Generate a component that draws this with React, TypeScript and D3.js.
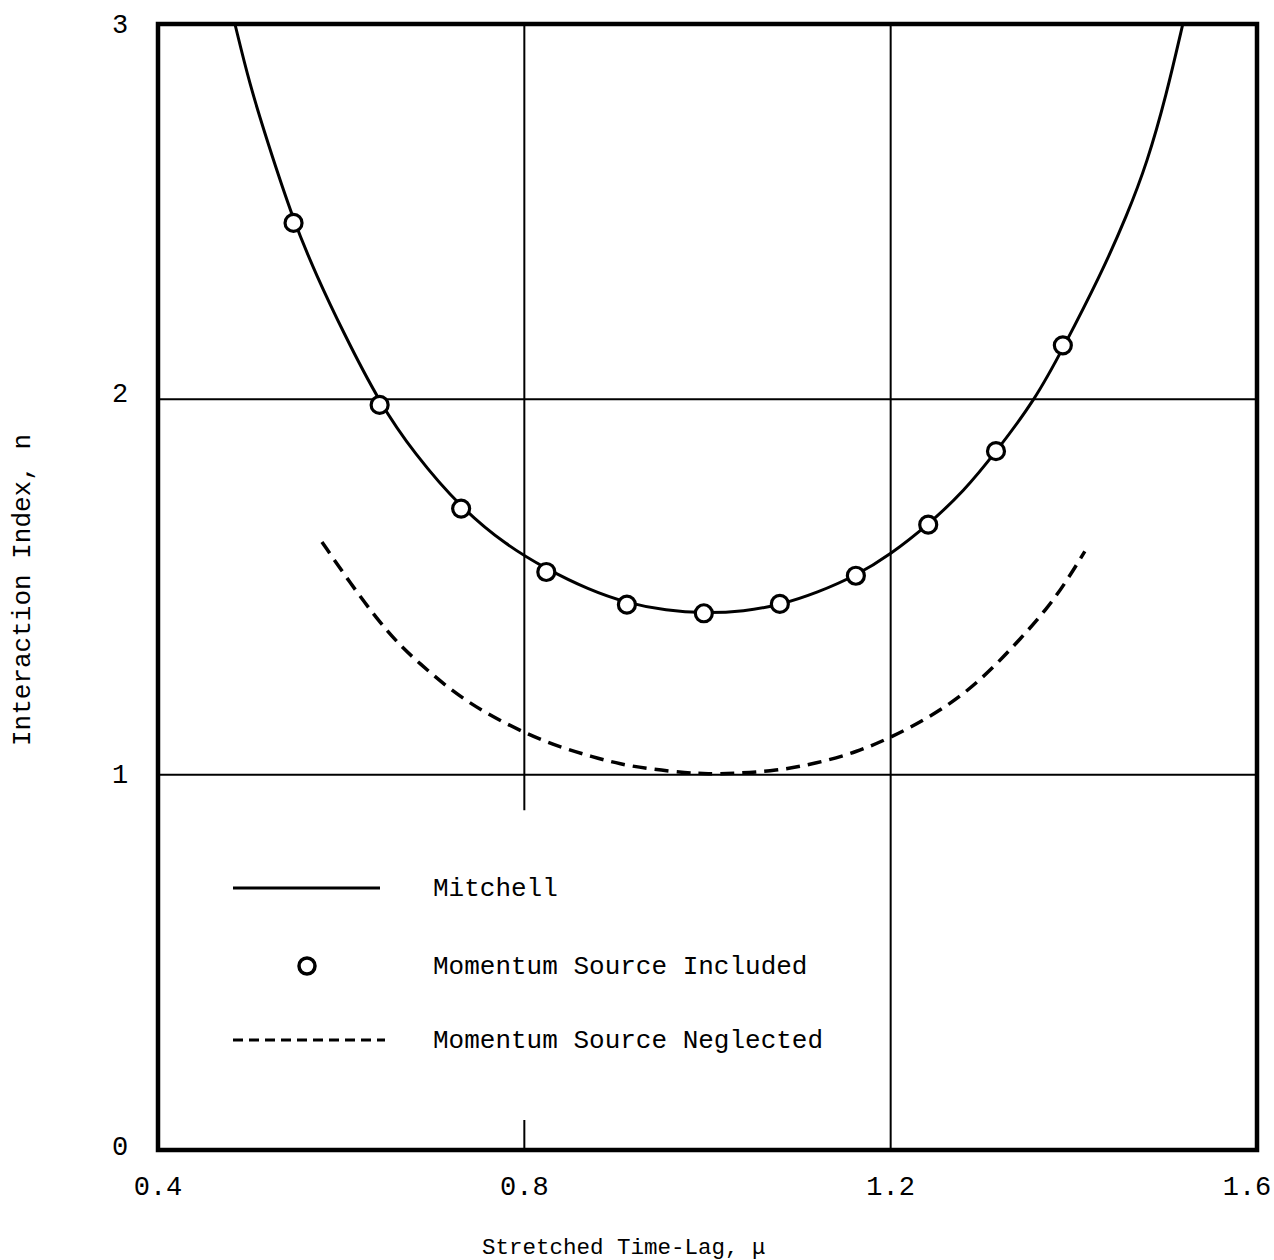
import * as d3 from "d3";

// Mitchell solution (solid curve), mu vs n
const mitchell: [number, number][] = [
  [0.484, 3.0], [0.5, 2.84], [0.519, 2.69], [0.548, 2.475], [0.573, 2.33],
  [0.602, 2.18], [0.642, 1.99], [0.68, 1.855], [0.731, 1.71], [0.78, 1.612],
  [0.824, 1.548], [0.87, 1.493], [0.912, 1.457], [0.955, 1.437], [0.996, 1.43],
  [1.04, 1.435], [1.079, 1.452], [1.12, 1.485], [1.162, 1.53], [1.2, 1.587],
  [1.241, 1.666], [1.28, 1.755], [1.315, 1.86], [1.358, 2.0], [1.388, 2.135],
  [1.429, 2.33], [1.458, 2.49], [1.48, 2.63], [1.501, 2.81], [1.519, 3.0],
];

// momentum source included (circles)
const included: [number, number][] = [
  [0.548, 2.47], [0.642, 1.985], [0.731, 1.709], [0.824, 1.54], [0.912, 1.453],
  [0.996, 1.43], [1.079, 1.455], [1.162, 1.53], [1.241, 1.666], [1.315, 1.862],
  [1.388, 2.144],
];

// momentum source neglected (dashed curve)
const neglected: [number, number][] = [
  [0.579, 1.62], [0.61, 1.51], [0.639, 1.415], [0.664, 1.345], [0.684, 1.3],
  [0.721, 1.222], [0.759, 1.162], [0.803, 1.108], [0.839, 1.073], [0.874, 1.048],
  [0.904, 1.028], [0.94, 1.014], [0.977, 1.005], [1.0, 1.002], [1.028, 1.003],
  [1.075, 1.01], [1.119, 1.03], [1.163, 1.06], [1.201, 1.1], [1.239, 1.148],
  [1.279, 1.212], [1.312, 1.285], [1.341, 1.36], [1.37, 1.44], [1.392, 1.515],
  [1.412, 1.595],
];

const xTicks = [0.4, 0.8, 1.2, 1.6];
const yTicks = [0, 1, 2, 3];
const legendLabels = ["Mitchell", "Momentum Source Included", "Momentum Source Neglected"];

const FONT = "'Liberation Mono', 'Courier New', monospace";

export default function App() {
  const width = 1274, height = 1260;
  const x = d3.scaleLinear().domain([0.4, 1.6]).range([158, 1257]);
  const y = d3.scaleLinear().domain([0, 3]).range([1150, 24]);

  const line = d3.line<[number, number]>()
    .x(d => x(d[0])).y(d => y(d[1]))
    .curve(d3.curveBasis);

  const legendY = [888, 966, 1040];
  const yLabelShift: Record<number, number> = { 0: -2, 1: 1, 2: -4, 3: 2 };

  return (
    <svg width={width} height={height}
      style={{ position: "absolute", left: 0, top: 0, background: "#fff" }}>
      {/* grid */}
      <g stroke="#000" strokeWidth={2}>
        {[1, 2].map(v => (
          <line key={v} x1={x(0.4)} x2={x(1.6)} y1={y(v)} y2={y(v)} />
        ))}
        <line x1={x(0.8)} x2={x(0.8)} y1={y(3)} y2={y(0.905)} />
        <line x1={x(0.8)} x2={x(0.8)} y1={y(0.08)} y2={y(0)} />
        <line x1={x(1.2)} x2={x(1.2)} y1={y(3)} y2={y(0)} />
      </g>

      {/* frame */}
      <rect x={x(0.4)} y={y(3)} width={x(1.6) - x(0.4)} height={y(0) - y(3)}
        fill="none" stroke="#000" strokeWidth={4.5} />

      <path d={line(mitchell) ?? ""} fill="none" stroke="#000" strokeWidth={3} />
      <path d={line(neglected) ?? ""} fill="none" stroke="#000" strokeWidth={3.5}
        strokeDasharray="14 8" />
      {included.map((d, i) => (
        <circle key={i} cx={x(d[0])} cy={y(d[1])} r={8.5}
          fill="#fff" stroke="#000" strokeWidth={3.2} />
      ))}

      {/* tick labels */}
      <g fontFamily={FONT} fontSize={27} fill="#000">
        {xTicks.map(t => (
          <text key={t} x={t === 1.6 ? x(t) - 10 : x(t)} y={1195} textAnchor="middle">
            {t.toFixed(1)}
          </text>
        ))}
        {yTicks.map(t => (
          <text key={t} x={120} y={y(t) + yLabelShift[t]}
            textAnchor="middle" dominantBaseline="middle">
            {t}
          </text>
        ))}
      </g>

      {/* axis titles */}
      <text x={482} y={1254} fontFamily={FONT} fontSize={22.5} fill="#000">
        Stretched Time-Lag, μ
      </text>
      <text transform="translate(30,590) rotate(-90)" textAnchor="middle"
        fontFamily={FONT} fontSize={26} fill="#000">
        Interaction Index, n
      </text>

      {/* legend */}
      <g>
        <line x1={233} x2={380} y1={legendY[0]} y2={legendY[0]} stroke="#000" strokeWidth={3} />
        <circle cx={307} cy={legendY[1]} r={8} fill="#fff" stroke="#000" strokeWidth={3.5} />
        <line x1={233} x2={385} y1={legendY[2]} y2={legendY[2]} stroke="#000" strokeWidth={3}
          strokeDasharray="10 6" />
        {legendLabels.map((l, i) => (
          <text key={l} x={433} y={legendY[i] + 8} fontFamily={FONT} fontSize={26} fill="#000">
            {l}
          </text>
        ))}
      </g>
    </svg>
  );
}
